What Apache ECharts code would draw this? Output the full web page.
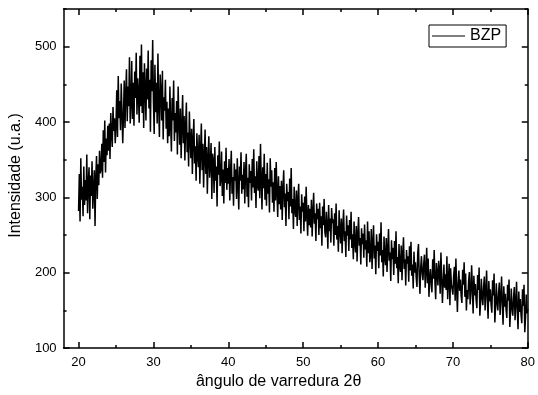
<!DOCTYPE html>
<html>
<head>
<meta charset="utf-8">
<script src="https://cdn.jsdelivr.net/npm/echarts@6/dist/echarts.min.js"></script>
<style>
  html, body { margin: 0; padding: 0; background: #fff; }
  #myChart { width: 538px; height: 395px; }
</style>
</head>
<body>
<div id="myChart"></div>
<script>
// diffractogram, one value every 0.1 degree from 20 to 80
var angleStart = 20
var angleStep = 0.1

// 20.0 .. 39.9
var intensityA = [
  282, 331, 268, 352, 297, 314, 275, 341, 290, 323,
  296, 357, 279, 318, 340, 271, 329, 302, 348, 285,
  310, 336, 262, 327, 355, 298, 344, 316, 362, 332,
  338, 371, 326, 389, 347, 402, 333, 378, 356, 395,
  362, 398, 351, 412, 384, 367, 420, 388, 405, 372,
  396, 442, 380, 461, 405, 428, 389, 451, 413, 372,
  410, 455, 392, 438, 470, 401, 447, 421, 486, 398,
  426, 481, 404, 452, 395, 467, 432, 492, 410, 458,
  437, 399, 488, 421, 503, 412, 466, 392, 478, 445,
  402, 471, 430, 495, 418, 456, 387, 482, 441, 509,
  428, 384, 476, 413, 452, 398, 491, 422, 380, 463,
  441, 402, 468, 377, 433, 415, 456, 391, 427, 372,
  418, 381, 447, 396, 361, 432, 402, 455, 375, 412,
  386, 428, 357, 447, 401, 370, 418, 352, 395, 436,
  372, 408, 349, 395, 426, 360, 386, 341, 414, 378,
  352, 391, 331, 376, 404, 345, 368, 322, 385, 357,
  340, 383, 318, 362, 398, 336, 371, 313, 354, 390,
  331, 367, 305, 352, 381, 326, 344, 372, 298, 358,
  349, 306, 367, 322, 341, 288, 356, 330, 374, 315,
  324, 361, 302, 337, 292, 348, 319, 366, 310, 339
]
// 40.0 .. 59.9
var intensityB = [
  318, 351, 296, 334, 362, 305, 327, 289, 345, 322,
  337, 298, 352, 316, 284, 341, 322, 360, 305, 330,
  311, 347, 292, 333, 358, 301, 326, 287, 344, 319,
  335, 296, 351, 313, 364, 306, 328, 286, 348, 317,
  309, 355, 299, 371, 322, 284, 340, 312, 358, 297,
  331, 289, 346, 305, 324, 280, 352, 314, 336, 293,
  320, 281, 339, 296, 347, 306, 274, 328, 291, 315,
  284, 322, 270, 311, 336, 287, 305, 262, 318, 295,
  307, 271, 325, 288, 339, 279, 298, 258, 314, 283,
  274, 309, 262, 296, 318, 270, 288, 252, 304, 281,
  293, 255, 301, 268, 314, 276, 249, 290, 263, 285,
  260, 297, 248, 281, 306, 265, 279, 242, 292, 271,
  285, 250, 293, 259, 275, 236, 288, 263, 298, 254,
  247, 281, 262, 232, 290, 255, 272, 240, 286, 266,
  271, 236, 279, 250, 292, 244, 262, 228, 283, 257,
  239, 272, 226, 261, 284, 242, 255, 221, 276, 249,
  263, 229, 270, 244, 281, 233, 251, 218, 268, 240,
  227, 262, 215, 250, 274, 236, 246, 211, 259, 238,
  252, 220, 264, 231, 243, 208, 268, 226, 255, 214,
  224, 258, 205, 240, 263, 219, 236, 198, 251, 229
]
// 60.0 .. 80.0
var intensityC = [
  241, 206, 252, 223, 267, 214, 230, 195, 248, 221,
  210, 246, 201, 231, 258, 216, 227, 189, 243, 218,
  233, 197, 242, 212, 255, 206, 221, 186, 238, 209,
  201, 236, 190, 224, 247, 205, 218, 183, 230, 212,
  222, 188, 235, 203, 241, 196, 211, 179, 228, 200,
  214, 193, 181, 226, 238, 195, 172, 207, 222, 199,
  190, 212, 224, 180, 203, 233, 186, 219, 168, 194,
  205, 184, 174, 218, 192, 230, 188, 165, 213, 199,
  183, 216, 204, 172, 227, 195, 160, 186, 211, 180,
  198, 177, 222, 165, 190, 212, 157, 206, 184, 178,
  171, 196, 208, 163, 219, 179, 148, 187, 203, 176,
  191, 170, 160, 204, 184, 214, 168, 199, 150, 177,
  165, 189, 201, 158, 172, 210, 181, 146, 196, 170,
  185, 164, 153, 197, 177, 207, 143, 161, 192, 168,
  157, 181, 195, 150, 174, 203, 165, 139, 189, 162,
  178, 158, 147, 190, 170, 199, 134, 155, 186, 160,
  150, 173, 187, 144, 166, 195, 158, 131, 182, 155,
  172, 151, 140, 184, 163, 191, 128, 148, 179, 153,
  143, 166, 181, 137, 159, 188, 150, 125, 175, 148,
  165, 144, 133, 178, 156, 184, 121, 140, 171, 146,
  152
]

var xMajorTicks = [20, 30, 40, 50, 60, 70, 80]
var xMinorTicks = [25, 35, 45, 55, 65, 75]
var yMajorTicks = [100, 200, 300, 400, 500]
var yMinorTicks = [150, 250, 350, 450, 550]

var seriesName = 'BZP'
var xName = 'ângulo de varredura 2θ'
var yName = 'Intensidade (u.a.)'

var intensity = intensityA.concat(intensityB, intensityC)
var points = []
for (var i = 0; i < intensity.length; i++) {
  points.push([+(angleStart + i * angleStep).toFixed(1), intensity[i]])
}

var font = '"Liberation Sans", Arial, sans-serif'
var lineStyle = { color: '#000', width: 1.5 }

function xAxisCfg(position, ticks, len, withLine, withLabel) {
  return {
    type: 'value',
    position: position,
    min: 18,
    max: 80,
    axisLine: { show: withLine, onZero: false, lineStyle: lineStyle },
    axisTick: { show: true, inside: true, length: len, customValues: ticks, lineStyle: lineStyle },
    axisLabel: {
      show: withLabel,
      customValues: ticks,
      color: '#000',
      fontFamily: font,
      fontSize: 13,
      margin: 8,
    },
    splitLine: { show: false },
  }
}

function yAxisCfg(position, ticks, len, withLine, withLabel) {
  return {
    type: 'value',
    position: position,
    min: 100,
    max: 550,
    axisLine: { show: withLine, onZero: false, lineStyle: lineStyle },
    axisTick: { show: true, inside: true, length: len, customValues: ticks, lineStyle: lineStyle },
    axisLabel: {
      show: withLabel,
      customValues: ticks,
      color: '#000',
      fontFamily: font,
      fontSize: 13,
      margin: 7,
    },
    splitLine: { show: false },
  }
}

var xMain = xAxisCfg('bottom', xMajorTicks, 6, true, true)
xMain.name = xName
xMain.nameLocation = 'middle'
xMain.nameGap = 24
// the title sits a little left of the plot centre
xMain.nameTextStyle = { color: '#000', fontFamily: font, fontSize: 16, padding: [0, 34, 0, 0] }

var yMain = yAxisCfg('left', yMajorTicks, 6, true, true)
yMain.name = yName
yMain.nameLocation = 'middle'
yMain.nameGap = 33
yMain.nameTextStyle = { color: '#000', fontFamily: font, fontSize: 16, padding: [0, 0, 0, 6] }

var myChart = echarts.init(document.getElementById('myChart'))
var option = {
  backgroundColor: '#fff',
  animation: false,
  grid: { left: 63, right: 6, top: 9, bottom: 42 },
  legend: {
    data: [{ name: seriesName, icon: 'rect' }],
    left: 429,
    top: 25,
    padding: [3, 5, 3, 3],
    borderColor: '#000',
    borderWidth: 1,
    itemWidth: 33,
    itemHeight: 1,
    textStyle: { color: '#000', fontFamily: font, fontSize: 16 },
  },
  xAxis: [
    xMain,
    xAxisCfg('bottom', xMinorTicks, 3, false, false),
    xAxisCfg('top', xMajorTicks, 6, true, false),
    xAxisCfg('top', xMinorTicks, 3, false, false),
  ],
  yAxis: [
    yMain,
    yAxisCfg('left', yMinorTicks, 3, false, false),
    yAxisCfg('right', yMajorTicks, 6, true, false),
    yAxisCfg('right', yMinorTicks, 3, false, false),
  ],
  series: [
    {
      name: seriesName,
      type: 'line',
      xAxisIndex: 0,
      yAxisIndex: 0,
      data: points,
      symbol: 'none',
      sampling: null,
      lineStyle: { color: '#000', width: 1.5 },
      itemStyle: { color: '#000' },
    },
  ],
}
myChart.setOption(option)
</script>
</body>
</html>
